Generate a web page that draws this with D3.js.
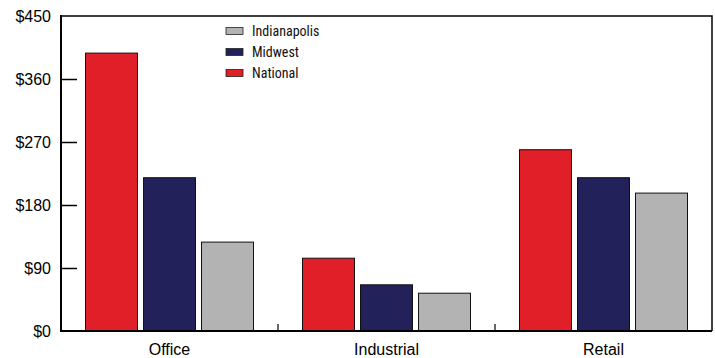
<!DOCTYPE html>
<html>
<head>
<meta charset="utf-8">
<script src="https://cdn.jsdelivr.net/npm/d3@7"></script>
<style>
  html, body { margin: 0; padding: 0; background: #fff; }
  svg { display: block; font-family: "Liberation Sans Narrow", "Roboto Condensed", "Liberation Sans", Arial, sans-serif; }
</style>
</head>
<body>
<svg id="chart" width="715" height="358"></svg>
<script>
// Rent by property type (dollars)
const categories = ["Office", "Industrial", "Retail"];
const seriesNames = ["National", "Midwest", "Indianapolis"];
const national = [397, 104, 259];
const midwest = [219, 66, 219];
const indianapolis = [127, 54, 197];
const yTicks = [0, 90, 180, 270, 360, 450];
const legendOrder = ["Indianapolis", "Midwest", "National"];

const colors = { National: "#e01f28", Midwest: "#22215a", Indianapolis: "#b3b3b3" };
const seriesValues = { National: national, Midwest: midwest, Indianapolis: indianapolis };

const svg = d3.select("#chart");
const margin = { left: 61, right: 3, top: 16, bottom: 27 };
const W = 715, H = 358;
const x0 = margin.left, x1 = W - margin.right;
const yTop = margin.top, yBot = H - margin.bottom;

const x = d3.scaleBand().domain(categories).range([x0, x1]).paddingInner(0).paddingOuter(0);
const xs = d3.scaleBand().domain(seriesNames).range([24.5, x.bandwidth() - 24.5]).paddingInner(0.104).paddingOuter(0);
const y = d3.scaleLinear().domain([0, 450]).range([yBot, yTop]);

// frame: top and right edges
svg.append("path")
  .attr("d", `M${x0},${yTop}H${x1}V${yBot}`)
  .attr("fill", "none").attr("stroke", "#000").attr("stroke-width", 1.5);

// bars
const groups = svg.append("g").selectAll("g")
  .data(categories).join("g")
  .attr("transform", d => `translate(${x(d)},0)`);

groups.selectAll("rect")
  .data((c, i) => seriesNames.map(s => ({ s, v: seriesValues[s][i] })))
  .join("rect")
  .attr("x", d => xs(d.s))
  .attr("width", xs.bandwidth())
  .attr("y", d => y(d.v))
  .attr("height", d => y(0) - y(d.v))
  .attr("fill", d => colors[d.s])
  .attr("stroke", "#111").attr("stroke-width", 1);

// y axis with inward ticks
const yAxis = d3.axisRight(y).tickValues(yTicks).tickSize(16).tickFormat(d => "$" + d);
const gy = svg.append("g").attr("transform", `translate(${x0},0)`).call(yAxis);
gy.select(".domain").remove();
gy.selectAll(".tick line").attr("stroke", "#000").attr("stroke-width", 1.5);
gy.selectAll(".tick text")
  .attr("x", -10).attr("text-anchor", "end")
  .attr("font-size", 16).attr("fill", "#000");
gy.selectAll(".tick").filter(d => d === 0 || d === 450).select("line").remove();

// x axis: short upward ticks at category boundaries
const xAxis = d3.axisBottom(x).tickSize(0).tickPadding(13);
const gx = svg.append("g").attr("transform", `translate(0,${yBot})`).call(xAxis);
gx.select(".domain").remove();
gx.selectAll(".tick text").attr("font-size", 16).attr("fill", "#000");
svg.append("g").selectAll("line")
  .data(categories.slice(1)).join("line")
  .attr("x1", d => x(d)).attr("x2", d => x(d))
  .attr("y1", yBot).attr("y2", yBot - 7)
  .attr("stroke", "#000").attr("stroke-width", 1.2);

// axis lines
svg.append("line").attr("x1", x0).attr("x2", x1).attr("y1", yBot).attr("y2", yBot)
  .attr("stroke", "#000").attr("stroke-width", 2);
svg.append("line").attr("x1", x0).attr("x2", x0).attr("y1", yTop - 1).attr("y2", yBot + 1)
  .attr("stroke", "#000").attr("stroke-width", 2);

// legend
const legend = svg.append("g").attr("transform", "translate(226,31)");
const li = legend.selectAll("g").data(legendOrder).join("g")
  .attr("transform", (d, i) => `translate(0,${i * 21})`);
li.append("rect").attr("x", 0).attr("y", -3.5).attr("width", 17).attr("height", 7)
  .attr("fill", d => colors[d]).attr("stroke", "#222").attr("stroke-width", 0.8);
li.append("text").attr("x", 26).attr("y", 0).attr("dy", "0.35em")
  .attr("font-size", 14).attr("fill", "#111").text(d => d);
</script>
</body>
</html>
